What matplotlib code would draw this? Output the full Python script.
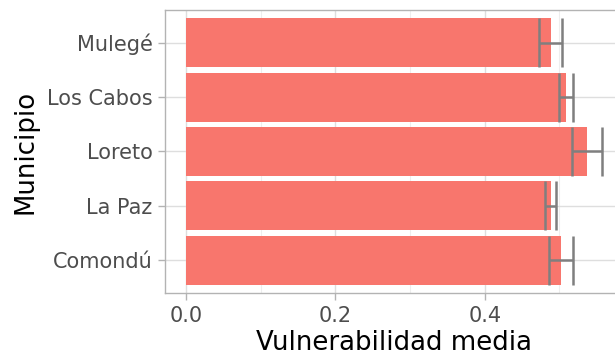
import matplotlib
matplotlib.use("Agg")
import matplotlib.pyplot as plt
from matplotlib.ticker import MultipleLocator

# data
municipios = ["Comondú", "La Paz", "Loreto", "Los Cabos", "Mulegé"]
media = [0.502, 0.488, 0.537, 0.509, 0.488]
error = [0.016, 0.0075, 0.020, 0.009, 0.015]

plt.rcParams["font.family"] = "DejaVu Sans"

fig = plt.figure(figsize=(6.15, 3.55), dpi=100)
ax = fig.add_axes([165 / 615, 62 / 355, 458 / 615, 283 / 355])

pos = list(range(1, len(municipios) + 1))
ax.barh(pos, media, height=0.9, color="#F8766D", zorder=2)

# error bars with caps the full bar height
for p, m, e in zip(pos, media, error):
    lo, hi = m - e, m + e
    ax.plot([lo, hi], [p, p], color="#7F7F7F", lw=1.8, zorder=3, solid_capstyle="butt")
    ax.plot([lo, lo], [p - 0.45, p + 0.45], color="#7F7F7F", lw=1.8, zorder=3, solid_capstyle="butt")
    ax.plot([hi, hi], [p - 0.45, p + 0.45], color="#7F7F7F", lw=1.8, zorder=3, solid_capstyle="butt")

ax.set_xlim(-0.028, 0.585)
ax.set_ylim(0.4, 5.6)
ax.set_yticks(pos)
ax.set_yticklabels(municipios)
ax.xaxis.set_major_locator(MultipleLocator(0.2))
ax.xaxis.set_minor_locator(MultipleLocator(0.1))
ax.xaxis.set_major_formatter(plt.FuncFormatter(lambda v, _: f"{v:.1f}"))

ax.grid(which="major", color="#DEDEDE", lw=1.0, zorder=0)
ax.grid(which="minor", axis="x", color="#EEEEEE", lw=0.8, zorder=0)
ax.set_axisbelow(True)

for s in ax.spines.values():
    s.set_color("#B3B3B3")
    s.set_linewidth(1.0)

ax.tick_params(axis="both", which="major", colors="#B3B3B3", length=5, width=1.0,
               labelcolor="#4D4D4D", labelsize=15, pad=4)
ax.tick_params(axis="x", which="minor", length=0)

ax.set_xlabel("Vulnerabilidad media", fontsize=18.7, color="black", labelpad=3)
ax.set_ylabel("Municipio", fontsize=18.7, color="black", labelpad=6)

fig.savefig("out.png", dpi=100)
